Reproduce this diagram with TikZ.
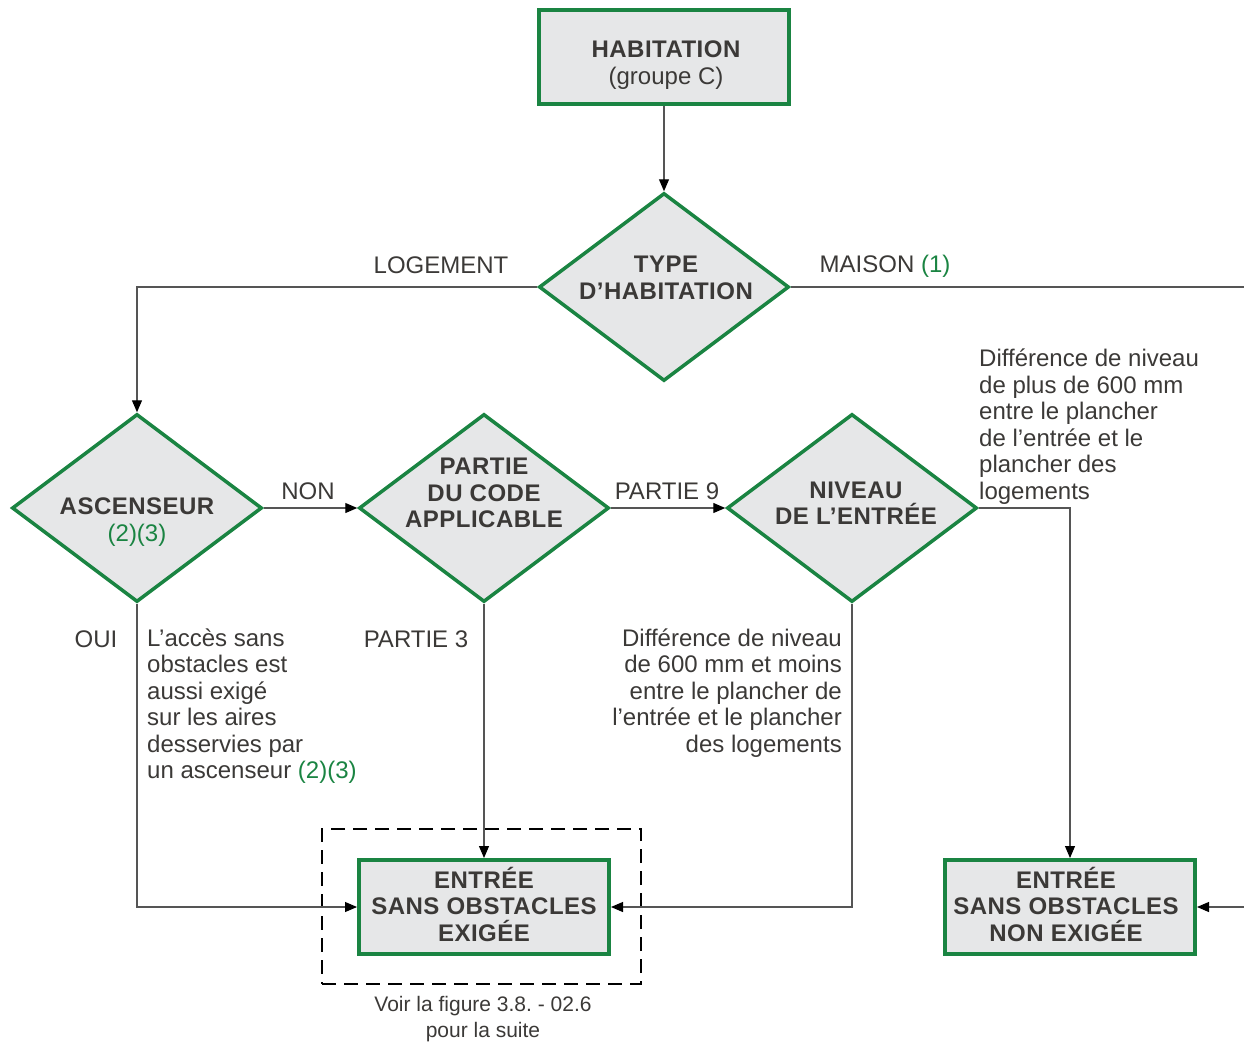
\documentclass[tikz,border=0pt]{standalone}
\usepackage{fontspec}
\setmainfont{Liberation Sans}
\newfontfamily\bsf[LetterSpace=2]{Liberation Sans}
\usetikzlibrary{shapes.geometric,arrows.meta}
\definecolor{grn}{HTML}{1A8442}
\definecolor{fillg}{HTML}{E6E7E8}
\definecolor{txt}{HTML}{3B3937}
\definecolor{ln}{HTML}{555555}
\frenchspacing
\begin{document}
\frenchspacing
\begin{tikzpicture}[x=1pt,y=-1pt,
 every node/.style={inner sep=0pt, text=txt, font=\fontsize{24}{26.5}\selectfont},
 boxn/.style={rectangle, draw=grn, fill=fillg, line width=4pt, minimum width=250pt, minimum height=94pt},
 diam/.style={diamond, draw=grn, fill=fillg, line width=3.5pt, minimum width=250pt, minimum height=188pt},
 conn/.style={draw=ln, line width=1.1pt},
 arr/.style={conn, -{Triangle[length=12pt,width=10pt,color=black]}},
 bl/.style={align=center, font=\fontsize{24}{26.5}\selectfont\bsf\bfseries},
 note/.style={font=\fontsize{24}{26.5}\selectfont}
]
\useasboundingbox (0,0) rectangle (1244,1041);

% shapes
\node[boxn] (top) at (664,57) {};
\node[diam] (type) at (664,287) {};
\node[diam] (asc) at (137,508) {};
\node[diam] (partie) at (484,508) {};
\node[diam] (niveau) at (852,508) {};
\node[boxn] (exig) at (484,907) {};
\node[boxn] (nonex) at (1070,907) {};
\node[draw=black, line width=1.8pt, dash pattern=on 14pt off 8pt, minimum width=319pt, minimum height=155pt] (dbox) at (481.5,906.5) {};

% shape texts
\node[bl] (toptxt) at (666,65) {HABITATION\\\fontsize{24}{26.5}\selectfont\mdseries\rmfamily (groupe C)};
\node[bl] (typetxt) at (666,278) {TYPE\\D’HABITATION};
\node[bl] (asctxt) at (137,522) {ASCENSEUR\\\mdseries\rmfamily\textcolor{grn}{(2)(3)}};
\node[bl] (partxt) at (484,493) {PARTIE\\DU CODE\\APPLICABLE};
\node[bl] (nivtxt) at (856,503) {NIVEAU\\DE L’ENTRÉE};
\node[bl] (extxt) at (484,904) {ENTRÉE\\SANS OBSTACLES\\EXIGÉE};
\node[bl] (nonextxt) at (1066,904) {ENTRÉE\\SANS OBSTACLES\\NON EXIGÉE};

% connectors
\coordinate (redge1) at (1244,287);
\coordinate (redge2) at (1244,907);
\draw[arr] (top.south) -- (type.north);
\draw[arr] (type.west) -| (asc.north);
\draw[conn] (type.east) -- (redge1);
\draw[arr] (redge2) -- (nonex.east);
\draw[arr] (asc.east) -- (partie.west);
\draw[arr] (partie.east) -- (niveau.west);
\draw[arr] (asc.south) |- (exig.west);
\draw[arr] (partie.south) -- (exig.north);
\draw[arr] (niveau.south) |- (exig.east);
\draw[arr] (niveau.east) -| (nonex.north);

% labels
\node[note] (logement) at (441,265) {LOGEMENT};
\node[note] (maison) at (885,266) {MAISON \textcolor{grn}{(1)}};
\node[note] (non) at (308,491) {NON};
\node[note] (p9) at (667,491) {PARTIE 9};
\node[note] (oui) at (96,639) {OUI};
\node[note] (p3) at (416,639) {PARTIE 3};
\node[note, anchor=west, align=left] (diff1) at (979,426.5) {Différence de niveau\\de plus de 600 mm\\entre le plancher\\de l’entrée et le\\plancher des\\logements};
\node[note, anchor=west, align=left] (acces) at (147,706) {L’accès sans\\obstacles est\\aussi exigé\\sur les aires\\desservies par\\un ascenseur \textcolor{grn}{(2)(3)}};
\node[note, anchor=east, align=right] (diff2) at (842,693) {Différence de niveau\\de 600 mm et moins\\entre le plancher de\\l’entrée et le plancher\\des logements};
\node[align=center, font=\fontsize{21}{26}\selectfont] (voir) at (483,1019) {Voir la figure 3.8. - 02.6\\pour la suite};
\end{tikzpicture}
\end{document}
